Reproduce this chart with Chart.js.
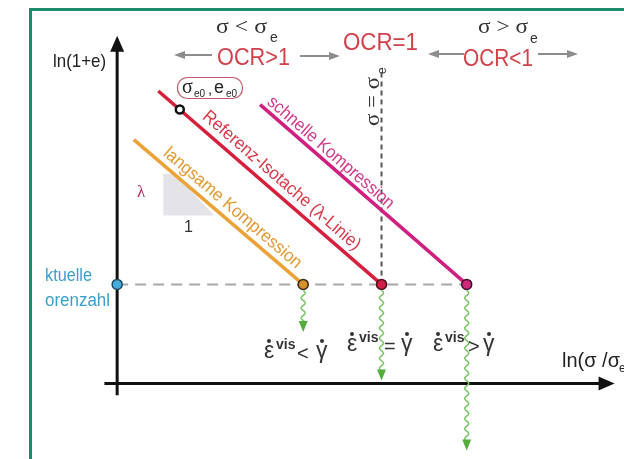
<!DOCTYPE html>
<html>
<head>
<meta charset="utf-8">
<script src="https://cdn.jsdelivr.net/npm/chart.js@4.4.1/dist/chart.umd.min.js"></script>
<style>
  html, body { margin: 0; padding: 0; background: #fff; }
  #wrap { position: relative; width: 624px; height: 459px; }
</style>
</head>
<body>
<div id="wrap"><canvas id="chart" width="624" height="459"></canvas></div>
<script>
// ln(1+e) over ln(sigma/sigma_e), schematic units
const lineNames = ['langsame Kompression', 'Referenz-Isotache (λ-Linie)', 'schnelle Kompression'];
const lineColors = ['#eba237', '#d51f3c', '#cf1f7f'];
const lineStartX = [1.7, 4.2, 14.6];
const lineStartY = [25.1, 30.1, 28.7];
const lineEndX = [19.0, 27.0, 35.7];
const currentY = 10.2;               // aktuelle Porenzahl
const arrowEndY = [5.3, 0.3, -6.9];  // creep arrows
const refPoint = [6.4, 28.2];        // (sigma_e0, e_e0)
const sigmaEqualTop = 32.3;
const slopeX = [4.7, 5.9, 9.9];
const slopeY = [21.6, 21.6, 17.3];
const xAxisRange = [-1.3, 50.8];
const yAxisRange = [-1.2, 35.8];

const SANS = '"Liberation Sans Narrow", "Liberation Sans", Arial, sans-serif';
const SERIF = '"Liberation Serif", "DejaVu Serif", serif';

function fitText(ctx, s, x, y, w, font, color, angle, align) {
    ctx.save();
    ctx.font = font;
    ctx.fillStyle = color;
    ctx.translate(x, y);
    ctx.rotate(angle || 0);
    const m = ctx.measureText(s).width;
    ctx.scale(w / m, 1);
    ctx.textAlign = align || 'left';
    ctx.textBaseline = 'alphabetic';
    ctx.fillText(s, 0, 0);
    ctx.restore();
}

function txt(ctx, s, x, y, font, color) {
    ctx.save();
    ctx.font = font;
    ctx.fillStyle = color;
    ctx.textAlign = 'left';
    ctx.textBaseline = 'alphabetic';
    ctx.fillText(s, x, y);
    ctx.restore();
}

function grayArrow(ctx, x0, x1, y) {
    const d = Math.sign(x1 - x0);
    ctx.save();
    ctx.strokeStyle = '#8c8c8c';
    ctx.fillStyle = '#8c8c8c';
    ctx.lineWidth = 2;
    ctx.beginPath();
    ctx.moveTo(x0, y);
    ctx.lineTo(x1 - d * 9, y);
    ctx.stroke();
    ctx.beginPath();
    ctx.moveTo(x1, y);
    ctx.lineTo(x1 - d * 11, y - 4);
    ctx.lineTo(x1 - d * 11, y + 4);
    ctx.closePath();
    ctx.fill();
    ctx.restore();
}

function dotted(ctx, x, y) {
    ctx.beginPath();
    ctx.arc(x, y, 2, 0, Math.PI * 2);
    ctx.fill();
}

function rateLabel(ctx, x, base, op, opDx, gDx) {
    ctx.save();
    ctx.fillStyle = '#333';
    ctx.font = '23px ' + SANS;
    ctx.fillText('ε', x, base);
    dotted(ctx, x + 5, base - 17);
    ctx.font = 'bold 14px ' + SANS;
    ctx.fillText('vis', x + 12, base - 9);
    ctx.font = '20px ' + SANS;
    ctx.fillText(op, x + opDx, base + 2);
    ctx.font = '23px ' + SANS;
    ctx.fillText('γ', x + gDx, base);
    dotted(ctx, x + gDx + 6, base - 17);
    ctx.restore();
}

const diagramPlugin = {
    id: 'diagram',
    beforeDraw(chart) {
        const ctx = chart.ctx;
        ctx.save();
        ctx.fillStyle = '#fff';
        ctx.fillRect(0, 0, chart.width, chart.height);
        ctx.strokeStyle = '#1d8a6c';
        ctx.lineWidth = 3;
        ctx.strokeRect(30.5, 9.5, 700, 600);
        ctx.restore();
    },
    afterDatasetsDraw(chart) {
        const ctx = chart.ctx;
        const X = v => chart.scales.x.getPixelForValue(v);
        const Y = v => chart.scales.y.getPixelForValue(v);

        // axis arrow heads
        ctx.save();
        ctx.fillStyle = '#111';
        const tx = X(xAxisRange[1]), ty = Y(0);
        ctx.beginPath();
        ctx.moveTo(tx, ty);
        ctx.lineTo(tx - 16, ty - 7);
        ctx.lineTo(tx - 16, ty + 7);
        ctx.closePath();
        ctx.fill();
        const ax = X(0), ay = Y(yAxisRange[1]);
        ctx.beginPath();
        ctx.moveTo(ax, ay);
        ctx.lineTo(ax - 7, ay + 16);
        ctx.lineTo(ax + 7, ay + 16);
        ctx.closePath();
        ctx.fill();
        ctx.restore();

        // wavy creep arrows
        ctx.save();
        lineEndX.forEach((ex, i) => {
            const x = X(ex), y0 = Y(currentY) + 6, y1 = Y(arrowEndY[i]);
            ctx.strokeStyle = '#7cc46a';
            ctx.lineWidth = 1.5;
            ctx.beginPath();
            for (let y = y0; y <= y1 - 9; y += 0.5) {
                const dx = 2 * Math.sin((y - y0) / 1.6);
                if (y === y0) ctx.moveTo(x + dx, y); else ctx.lineTo(x + dx, y);
            }
            ctx.stroke();
            ctx.fillStyle = '#55ad3c';
            ctx.beginPath();
            ctx.moveTo(x, y1);
            ctx.lineTo(x - 4.5, y1 - 11);
            ctx.lineTo(x + 4.5, y1 - 11);
            ctx.closePath();
            ctx.fill();
        });
        ctx.restore();

        // labels along the isotaches
        const labelT = [0.537, 0.514, 0.31];
        const labelOff = [12, 13, 10];
        const labelW = [176, 203, 162];
        const labelCol = ['#e2992f', '#d93848', '#d2388a'];
        lineNames.forEach((name, i) => {
            const x0 = X(lineStartX[i]), y0 = Y(lineStartY[i]);
            const x1 = X(lineEndX[i]), y1 = Y(currentY);
            const L = Math.hypot(x1 - x0, y1 - y0);
            const ux = (x1 - x0) / L, uy = (y1 - y0) / L;
            const cx = x0 + ux * L * labelT[i] + uy * labelOff[i];
            const cy = y0 + uy * L * labelT[i] - ux * labelOff[i];
            ctx.save();
            ctx.translate(cx, cy);
            ctx.rotate(Math.atan2(uy, ux));
            ctx.font = '18px ' + SANS;
            const m = ctx.measureText(name).width;
            ctx.scale(labelW[i] / m, 1);
            ctx.fillStyle = labelCol[i];
            ctx.textAlign = 'center';
            ctx.textBaseline = 'middle';
            ctx.fillText(name, 0, 0);
            ctx.restore();
        });

        // header
        fitText(ctx, 'σ < σ', 216, 33, 51, '22px ' + SERIF, '#333');
        txt(ctx, 'e', 270, 42, '14px ' + SANS, '#333');
        fitText(ctx, 'σ > σ', 478, 33, 50, '22px ' + SERIF, '#333');
        txt(ctx, 'e', 530, 43, '14px ' + SANS, '#333');
        fitText(ctx, 'OCR>1', 217, 65, 73, '24px ' + SANS, '#d2404a');
        fitText(ctx, 'OCR=1', 343, 50, 75, '24px ' + SANS, '#d2404a');
        fitText(ctx, 'OCR<1', 463, 66, 70, '24px ' + SANS, '#d2404a');
        grayArrow(ctx, 212, 174, 55);
        grayArrow(ctx, 300, 340, 56);
        grayArrow(ctx, 464, 428, 54);
        grayArrow(ctx, 538, 578, 54);

        // sigma = sigma_e, rotated
        ctx.save();
        ctx.translate(379, 126);
        ctx.rotate(-Math.PI / 2);
        fitText(ctx, 'σ = σ', 0, 0, 49, '21px ' + SERIF, '#333');
        txt(ctx, 'e', 52, 7, '12px ' + SANS, '#333');
        ctx.restore();

        // axis titles
        fitText(ctx, 'ln(1+e)', 53, 67, 53, '19px ' + SANS, '#222');
        fitText(ctx, 'ln(σ /σ', 562, 367, 58, '21px ' + SANS, '#222');
        txt(ctx, 'e', 619, 372, '12px ' + SANS, '#222');

        // reference state box
        ctx.save();
        ctx.strokeStyle = '#c45a6a';
        ctx.lineWidth = 1.2;
        ctx.beginPath();
        ctx.roundRect(177.5, 77.5, 65, 21, 10);
        ctx.stroke();
        ctx.restore();
        txt(ctx, 'σ', 182, 93, '20px ' + SERIF, '#222');
        txt(ctx, 'e0', 194, 97, '10px ' + SANS, '#222');
        txt(ctx, ',', 208, 94, '15px ' + SANS, '#222');
        txt(ctx, 'e', 214, 93, '18px ' + SANS, '#222');
        txt(ctx, 'e0', 226, 97, '10px ' + SANS, '#222');

        // slope
        txt(ctx, 'λ', 137, 197, '17px ' + SERIF, '#b0305a');
        txt(ctx, '1', 184, 232, '16px ' + SANS, '#333');

        // current void ratio
        fitText(ctx, 'ktuelle', 45, 281, 47, '18px ' + SANS, '#3a9fcb');
        fitText(ctx, 'orenzahl', 45, 306, 65, '18px ' + SANS, '#3a9fcb');

        // strain rate labels
        rateLabel(ctx, 264, 358, '<', 33, 52);
        rateLabel(ctx, 347, 351, '=', 37, 54);
        rateLabel(ctx, 433, 351, '>', 35, 50);
    }
};

const lineSets = lineNames.map((name, i) => ({
    label: name,
    data: [{ x: lineStartX[i], y: lineStartY[i] }, { x: lineEndX[i], y: currentY }],
    showLine: true,
    borderColor: lineColors[i],
    borderWidth: 3.5,
    pointRadius: 0,
    order: 5
}));

new Chart(document.getElementById('chart'), {
    type: 'scatter',
    data: {
        datasets: [
            {
                label: 'Endpunkte',
                data: [{ x: 0, y: currentY }].concat(lineEndX.map(x => ({ x: x, y: currentY }))),
                pointRadius: 5,
                pointBorderWidth: 1.5,
                pointBackgroundColor: ['#45aedc', '#d4922a', '#d2204a', '#d0287a'],
                pointBorderColor: ['#1d4b60', '#3a2810', '#4a1018', '#401030'],
                order: 1
            },
            {
                label: 'Referenzpunkt',
                data: [{ x: refPoint[0], y: refPoint[1] }],
                pointRadius: 4,
                pointBorderWidth: 2.5,
                pointBackgroundColor: '#fff',
                pointBorderColor: '#111',
                order: 2
            },
            ...lineSets,
            {
                label: 'aktuelle Porenzahl',
                data: [{ x: 0, y: currentY }, { x: lineEndX[2], y: currentY }],
                showLine: true,
                borderColor: '#a8a8a8',
                borderWidth: 2,
                borderDash: [11, 7],
                pointRadius: 0,
                order: 8
            },
            {
                label: 'sigma = sigma_e',
                data: [{ x: lineEndX[1], y: currentY }, { x: lineEndX[1], y: sigmaEqualTop }],
                showLine: true,
                borderColor: '#555',
                borderWidth: 2,
                borderDash: [5, 4],
                pointRadius: 0,
                order: 8
            },
            {
                label: 'Steigung',
                data: slopeX.map((x, i) => ({ x: x, y: slopeY[i] })),
                showLine: true,
                borderWidth: 0,
                backgroundColor: '#e4e4e8',
                fill: { value: slopeY[2] },
                pointRadius: 0,
                order: 9
            },
            {
                label: 'x-Achse',
                data: [{ x: xAxisRange[0], y: 0 }, { x: xAxisRange[1] - 1, y: 0 }],
                showLine: true,
                borderColor: '#111',
                borderWidth: 3,
                pointRadius: 0,
                order: 7
            },
            {
                label: 'y-Achse',
                data: [{ x: 0, y: yAxisRange[0] }, { x: 0, y: yAxisRange[1] - 1 }],
                showLine: true,
                borderColor: '#111',
                borderWidth: 3,
                pointRadius: 0,
                order: 7
            }
        ]
    },
    options: {
        responsive: false,
        animation: false,
        layout: { padding: 0 },
        plugins: {
            legend: { display: false },
            tooltip: { enabled: false },
            filler: { propagate: false }
        },
        scales: {
            x: { type: 'linear', display: false, min: -11.3, max: 51.1 },
            y: { type: 'linear', display: false, min: -7.1, max: 38.8 }
        }
    },
    plugins: [diagramPlugin]
});
</script>
</body>
</html>
